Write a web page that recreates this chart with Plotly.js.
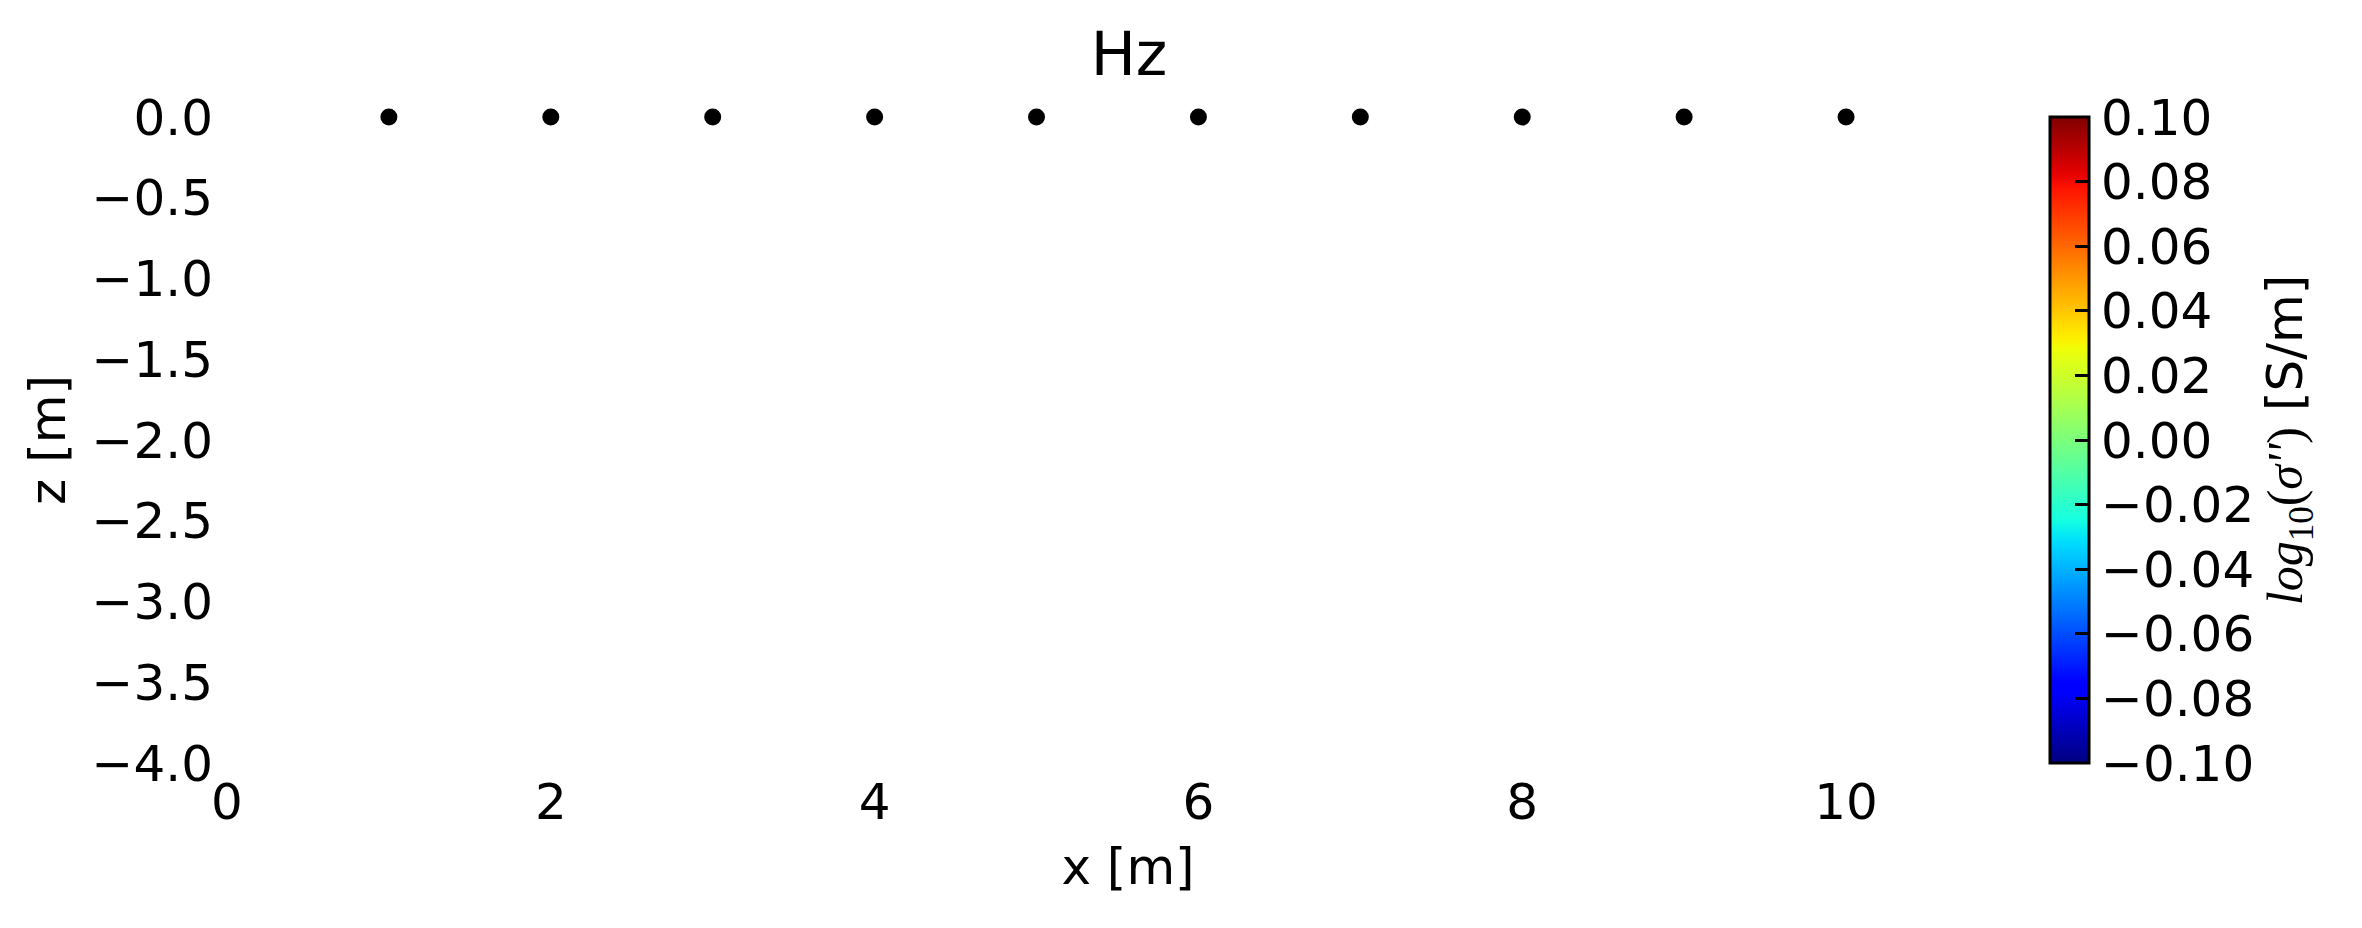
<!DOCTYPE html>
<html>
<head>
<meta charset="utf-8">
<script src="https://cdn.plot.ly/plotly-3.0.1.min.js"></script>
<style>html,body{margin:0;padding:0;background:#fff}#chart{width:2362px;height:928px}</style>
</head>
<body>
<div id="chart"></div>
<script>
// Electrode positions (x in m, z in m)
const electrodeX = [1, 2, 3, 4, 5, 6, 7, 8, 9, 10];
const electrodeZ = [0, 0, 0, 0, 0, 0, 0, 0, 0, 0];
// Colorbar range and ticks
const cbMin = -0.1;
const cbMax = 0.1;
const cbTicks = [-0.10, -0.08, -0.06, -0.04, -0.02, 0.00, 0.02, 0.04, 0.06, 0.08, 0.10];
const xTicks = [0, 2, 4, 6, 8, 10];
const yTicks = [0.0, -0.5, -1.0, -1.5, -2.0, -2.5, -3.0, -3.5, -4.0];
const xRange = [0, 11.13];
const yRange = [-4, 0];

// matplotlib "jet" segment data
const jetSeg = {
  r: [[0,0],[0.35,0],[0.66,1],[0.89,1],[1,0.5]],
  g: [[0,0],[0.125,0],[0.375,1],[0.64,1],[0.91,0],[1,0]],
  b: [[0,0.5],[0.11,1],[0.34,1],[0.65,0],[1,0]]
};
function interp(seg, t){
  for(let i=1;i<seg.length;i++){
    if(t<=seg[i][0]){
      const [x0,y0]=seg[i-1],[x1,y1]=seg[i];
      return y0+(y1-y0)*(t-x0)/(x1-x0);
    }
  }
  return seg[seg.length-1][1];
}
const jet = [];
for(let i=0;i<=64;i++){
  const t=i/64;
  const c=['r','g','b'].map(k=>Math.round(255*interp(jetSeg[k],t)));
  jet.push([t,`rgb(${c[0]},${c[1]},${c[2]})`]);
}

const FONT = 'DejaVu Sans';
const traces = [
  {
    type:'scatter', mode:'markers', x: electrodeX, y: electrodeZ,
    marker:{color:'black', size:17}, cliponaxis:false, showlegend:false, hoverinfo:'skip'
  },
  {
    type:'scatter', mode:'markers', x:[null], y:[null], showlegend:false, hoverinfo:'skip',
    marker:{
      color:[0], cmin:cbMin, cmax:cbMax, colorscale:jet, showscale:true,
      colorbar:{
        thickness:39, thicknessmode:'pixels',
        len:646, lenmode:'pixels',
        x:1.0117, xanchor:'left', xref:'paper', xpad:0,
        y:1, yanchor:'top', yref:'paper', ypad:0,
        outlinewidth:3, outlinecolor:'black',
        ticks:'inside', ticklen:15, tickwidth:3, tickcolor:'black',
        tickvals:cbTicks, tickformat:'.2f',
        tickfont:{family:FONT, size:50, color:'black'},
        ticklabelstandoff:4,
        title:{
          text:'<span style="font-family:\'Liberation Serif\'"><i>log</i><sub>10</sub>(<i>σ\'\'</i>)</span> [S/m]',
          side:'right', font:{family:FONT, size:50, color:'black'}
        }
      }
    }
  }
];

const layout = {
  width:2362, height:928,
  margin:{l:227, r:333, t:117, b:165, pad:0},
  paper_bgcolor:'white', plot_bgcolor:'white',
  title:{text:'Hz', font:{family:FONT, size:60, color:'black'}, x:0.478, xref:'container', xanchor:'center', y:(928-54)/928, yref:'container', yanchor:'middle'},
  xaxis:{
    range:xRange, tickvals:xTicks, ticktext:xTicks.map(String),
    showgrid:false, zeroline:false, showline:false, ticks:'',
    ticklabelstandoff:5,
    tickfont:{family:FONT, size:50, color:'black'},
    title:{text:'x [m]', font:{family:FONT, size:50, color:'black'}, standoff:18},
    automargin:false
  },
  yaxis:{
    range:yRange, tickvals:yTicks, tickformat:'.1f',
    showgrid:false, zeroline:false, showline:false, ticks:'',
    ticklabelstandoff:13,
    tickfont:{family:FONT, size:50, color:'black'},
    title:{text:'z [m]', font:{family:FONT, size:50, color:'black'}, standoff:10},
    automargin:false
  },
  showlegend:false
};
Plotly.newPlot('chart', traces, layout, {displayModeBar:false, staticPlot:true});
</script>
</body>
</html>
